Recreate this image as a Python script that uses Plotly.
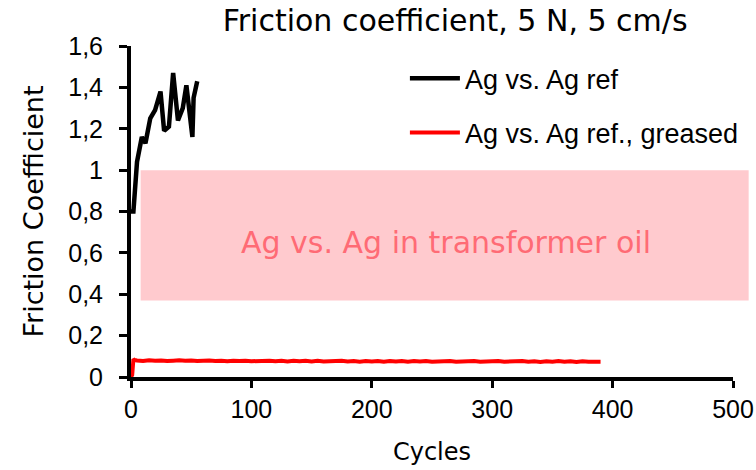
import plotly.graph_objects as go

# ---- data ----
black_x = [0, 2, 5, 9, 12, 16, 20, 24.5, 27.5, 31.5, 35, 39, 43, 46, 51, 52, 55]
black_y = [0.80, 0.80, 1.04, 1.16, 1.13, 1.25, 1.29, 1.38, 1.19, 1.21, 1.47, 1.24, 1.30, 1.41, 1.16, 1.35, 1.43]

red_x_start = [0, 1, 2, 3]
red_y_start = [0.0, 0.01, 0.086, 0.082]
red_x_rest = list(range(5, 391, 5))
red_y_rest = [0.080, 0.077, 0.081, 0.078, 0.080, 0.077, 0.079, 0.081, 0.078, 0.080,
              0.077, 0.079, 0.080, 0.077, 0.079, 0.076, 0.079, 0.077, 0.079, 0.076,
              0.078, 0.076, 0.079, 0.076, 0.078, 0.075, 0.078, 0.076, 0.078, 0.075,
              0.078, 0.075, 0.077, 0.075, 0.078, 0.075, 0.077, 0.074, 0.077, 0.075,
              0.077, 0.074, 0.077, 0.075, 0.077, 0.074, 0.077, 0.075, 0.077, 0.074,
              0.076, 0.074, 0.077, 0.074, 0.076, 0.074, 0.077, 0.074, 0.076, 0.074,
              0.077, 0.074, 0.076, 0.074, 0.077, 0.074, 0.076, 0.073, 0.076, 0.074,
              0.077, 0.074, 0.076, 0.073, 0.076, 0.074, 0.076, 0.074]
red_x = red_x_start + red_x_rest
red_y = red_y_start + red_y_rest

band_x_start = 8      # cycles
band_x_end = 513      # cycles (band runs past the axis end)
band_low = 0.37
band_high = 1.0
band_label = "Ag vs. Ag in transformer oil"
band_label_x = 262
band_label_y = 0.65

x_max = 500
y_max = 1.6

series_names = ["Ag vs. Ag ref", "Ag vs. Ag ref., greased"]

fig = go.Figure()
fig.add_trace(go.Scatter(x=black_x, y=black_y, mode="lines", name=series_names[0],
                         line=dict(color="black", width=4.5), legendgroup="a"))
fig.add_trace(go.Scatter(x=red_x, y=red_y, mode="lines", name=series_names[1],
                         line=dict(color="#ff0000", width=4), legendgroup="b"))

fig.add_shape(type="rect", xref="paper", yref="y",
              x0=band_x_start / x_max, x1=band_x_end / x_max,
              y0=band_low, y1=band_high,
              fillcolor="#ffcace", line=dict(width=0), layer="below")

title_font = "DejaVu Sans"

fig.add_annotation(x=band_label_x, y=band_label_y, xref="x", yref="y",
                   text=band_label, showarrow=False,
                   font=dict(family=title_font, size=30, color="#ff6b75"))

tick_font = dict(family="Liberation Sans, Arial", size=25, color="black")

fig.update_layout(
    width=756, height=470, autosize=False,
    margin=dict(l=131, r=23, t=46, b=93, autoexpand=False),
    paper_bgcolor="white", plot_bgcolor="white",
    separators=", ",
    title=dict(text="Friction coefficient, 5 N, 5 cm/s", x=0.602, xanchor="center",
               y=0.957, yanchor="middle",
               font=dict(family=title_font, size=30, color="black")),
    showlegend=True,
    legend=dict(x=0.455, y=0.975, xanchor="left", yanchor="top",
                font=dict(family="Liberation Sans, Arial", size=27, color="black"),
                bgcolor="rgba(0,0,0,0)", tracegroupgap=16, itemwidth=50),
    xaxis=dict(range=[0, x_max], dtick=100, tick0=0, showgrid=False, zeroline=False,
               showline=True, linecolor="black", linewidth=4, automargin=False,
               ticks="outside", ticklen=7, tickwidth=3, tickcolor="black",
               tickfont=tick_font,
               title=dict(text="Cycles", standoff=22,
                          font=dict(family=title_font, size=24, color="black"))),
    yaxis=dict(range=[0, y_max], dtick=0.2, tick0=0, showgrid=False, zeroline=False,
               showline=True, linecolor="black", linewidth=4, automargin=False,
               ticks="outside", ticklen=8, tickwidth=3, tickcolor="black",
               tickfont=tick_font, ticklabelstandoff=11,
               title=dict(text="Friction Coefficient", standoff=18,
                          font=dict(family=title_font, size=27, color="black"))),
)

fig.write_html("out.html")
